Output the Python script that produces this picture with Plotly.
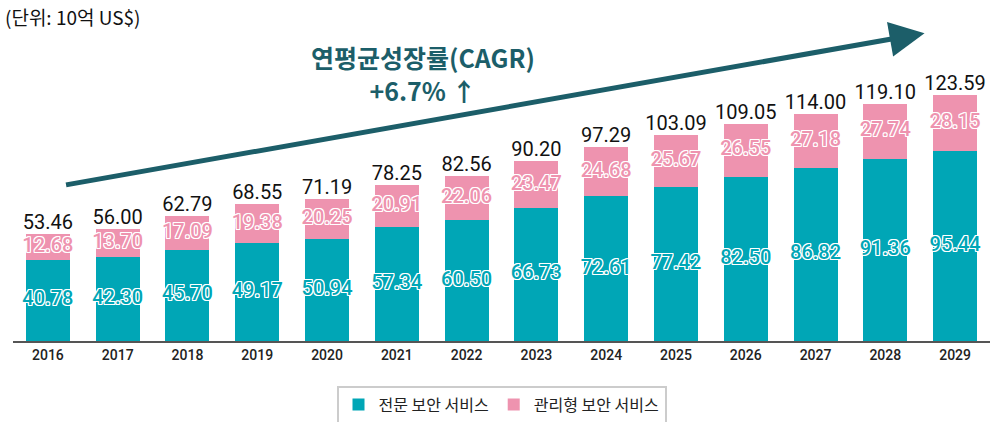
import plotly.graph_objects as go

years = ["2016", "2017", "2018", "2019", "2020", "2021", "2022",
         "2023", "2024", "2025", "2026", "2027", "2028", "2029"]
# 전문 보안 서비스
professional = [40.78, 42.30, 45.70, 49.17, 50.94, 57.34, 60.50,
                66.73, 72.61, 77.42, 82.50, 86.82, 91.36, 95.44]
# 관리형 보안 서비스
managed = [12.68, 13.70, 17.09, 19.38, 20.25, 20.91, 22.06,
           23.47, 24.68, 25.67, 26.55, 27.18, 27.74, 28.15]
totals = [53.46, 56.00, 62.79, 68.55, 71.19, 78.25, 82.56,
          90.20, 97.29, 103.09, 109.05, 114.00, 119.10, 123.59]

TEAL = "#00A6B6"
PINK = "#EE93AF"
DARK = "#1C5E69"
KR_FONT = "Noto Sans CJK KR"
NUM_FONT = "Roboto"

# 흰색 외곽선 효과 (hollow text)
outline = ("-1px -1px 0 #fff, 1px -1px 0 #fff, -1px 1px 0 #fff, 1px 1px 0 #fff, "
           "0 -1px 0 #fff, 0 1px 0 #fff, -1px 0 0 #fff, 1px 0 0 #fff")

fig = go.Figure()
fig.add_trace(go.Bar(x=years, y=professional, name="전문 보안 서비스",
                     marker_color=TEAL, marker_line_width=0, width=0.63))
fig.add_trace(go.Bar(x=years, y=managed, name="관리형 보안 서비스",
                     marker_color=PINK, marker_line_width=0, width=0.63))

# 막대 내부 값
fig.add_trace(go.Scatter(
    x=years, y=[v / 2 for v in professional], mode="text", cliponaxis=False,
    text=[f"{v:.2f}" for v in professional], showlegend=False, hoverinfo="skip",
    textfont=dict(family=NUM_FONT, size=20, color=TEAL, weight=500, shadow=outline)))
fig.add_trace(go.Scatter(
    x=years, y=[p + m / 2 for p, m in zip(professional, managed)], mode="text",
    cliponaxis=False,
    text=[f"{v:.2f}" for v in managed], showlegend=False, hoverinfo="skip",
    textfont=dict(family=NUM_FONT, size=20, color=PINK, weight=500, shadow=outline)))

# 합계
fig.add_trace(go.Scatter(
    x=years, y=totals, mode="text", textposition="top center", cliponaxis=False,
    text=[f"{v:.2f}" for v in totals], showlegend=False, hoverinfo="skip",
    textfont=dict(family=NUM_FONT, size=20, color="#111")))

# 성장 화살표
fig.add_annotation(x=0.933, y=0.93, xref="paper", yref="paper",
                   ax=-860, ay=152, axref="pixel", ayref="pixel",
                   showarrow=True, arrowhead=2, arrowsize=1.4, arrowwidth=5,
                   arrowcolor=DARK, text="")

fig.add_annotation(x=0.42, y=0.807, xref="paper", yref="paper",
                   xanchor="center", yanchor="middle", align="center",
                   text="<b>연평균성장률(CAGR)</b><br><b>+6.7% ↑</b>", showarrow=False,
                   font=dict(family=KR_FONT, size=25, color=DARK))

fig.update_layout(
    width=998, height=422,
    margin=dict(l=13, r=8, t=10, b=81, autoexpand=False),
    barmode="stack",
    plot_bgcolor="white", paper_bgcolor="white",
    title=dict(text="(단위: 10억 US$)", x=0.005, xanchor="left",
               y=0.957, yanchor="middle", yref="container",
               font=dict(family=KR_FONT, size=19, color="#111")),
    xaxis=dict(showline=True, linecolor="#555", linewidth=2, ticks="",
               tickfont=dict(family=NUM_FONT, size=14, color="#222", weight=500),
               range=[-0.5, 13.5]),
    yaxis=dict(visible=False, range=[0, 166]),
    legend=dict(orientation="h", x=0.5, xanchor="center", y=-0.135, yanchor="top",
                traceorder="normal", bordercolor="#ccc", borderwidth=2,
                font=dict(family=KR_FONT, size=16, color="#222")),
    showlegend=True,
)

fig.write_html("out.html", config={"displayModeBar": False},
               post_script="document.body.style.margin='0';")
